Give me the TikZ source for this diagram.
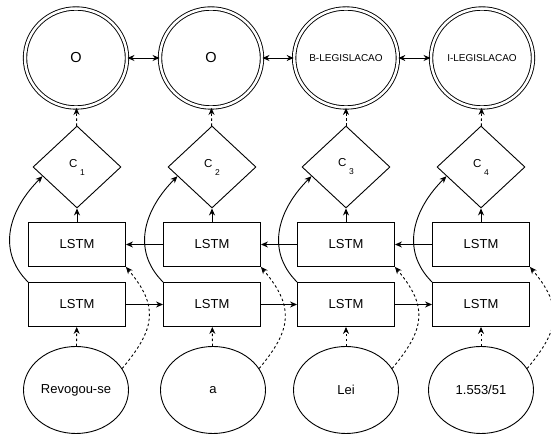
\documentclass[tikz,border=0pt]{standalone}
\usepackage{fontspec}
\setmainfont{Liberation Sans}
\usetikzlibrary{shapes.geometric,arrows.meta}
\begin{document}
\begin{tikzpicture}[x=1pt,y=1pt,line width=0.9pt,
 outnode/.style={draw,ellipse,double,double distance=2.5pt,minimum width=102pt,minimum height=99pt,inner sep=0pt},
 crfnode/.style={draw,diamond,minimum width=88pt,minimum height=82pt,inner sep=0pt},
 lstmnode/.style={draw,rectangle,minimum width=97pt,minimum height=44pt,inner sep=0pt,font=\fontsize{13}{15}\selectfont},
 wordnode/.style={draw,ellipse,minimum width=105pt,minimum height=87pt,inner sep=0pt,font=\fontsize{13}{15}\selectfont},
 arr/.style={-{Stealth[length=7pt,width=6pt]}},
 biarr/.style={{Stealth[length=7pt,width=6pt]}-{Stealth[length=7pt,width=6pt]}},
 dasharr/.style={-{Stealth[length=7pt,width=6pt]},dash pattern=on 2.5pt off 2.5pt}]
 \useasboundingbox (0,0) rectangle (551,435);
 \node[outnode,font=\fontsize{14.5}{16}\selectfont] (o1) at (76,377) {O};
 \node[outnode,font=\fontsize{14.5}{16}\selectfont] (o2) at (211,377) {O};
 \node[outnode,font=\fontsize{10}{12}\selectfont] (o3) at (346,377) {B-LEGISLACAO};
 \node[outnode,font=\fontsize{10}{12}\selectfont] (o4) at (482,377) {I-LEGISLACAO};
 \node[crfnode] (c1) at (77,268) {\fontsize{11.5}{13}\selectfont C\hspace{2.5pt}\raisebox{-8pt}{\fontsize{8.5}{10}\selectfont 1}};
 \node[crfnode] (c2) at (212,268) {\fontsize{11.5}{13}\selectfont C\hspace{2.5pt}\raisebox{-8pt}{\fontsize{8.5}{10}\selectfont 2}};
 \node[crfnode] (c3) at (346,268) {\fontsize{11.5}{13}\selectfont C\hspace{2.5pt}\raisebox{-8pt}{\fontsize{8.5}{10}\selectfont 3}};
 \node[crfnode] (c4) at (481,268) {\fontsize{11.5}{13}\selectfont C\hspace{2.5pt}\raisebox{-8pt}{\fontsize{8.5}{10}\selectfont 4}};
 \node[lstmnode] (b1) at (77,190.5) {LSTM};
 \node[lstmnode] (b2) at (212,190.5) {LSTM};
 \node[lstmnode] (b3) at (346,190.5) {LSTM};
 \node[lstmnode] (b4) at (481,190.5) {LSTM};
 \node[lstmnode] (f1) at (77,130.5) {LSTM};
 \node[lstmnode] (f2) at (212,130.5) {LSTM};
 \node[lstmnode] (f3) at (346,130.5) {LSTM};
 \node[lstmnode] (f4) at (481,130.5) {LSTM};
 \node[wordnode] (w1) at (76,45) {Revogou-se};
 \node[wordnode] (w2) at (213,45) {a};
 \node[wordnode] (w3) at (346,45) {Lei};
 \node[wordnode] (w4) at (481,45) {1.553/51};
 \draw[biarr] (o1) -- (o2);
 \draw[biarr] (o2) -- (o3);
 \draw[biarr] (o3) -- (o4);
 \draw[dasharr] (c1) -- (o1);
 \draw[dasharr] (c2) -- (o2);
 \draw[dasharr] (c3) -- (o3);
 \draw[dasharr] (c4) -- (o4);
 \draw[arr] (b1) -- (c1);
 \draw[arr] (b2) -- (c2);
 \draw[arr] (b3) -- (c3);
 \draw[arr] (b4) -- (c4);
 \draw[arr] (b4) -- (b3);
 \draw[arr] (b3) -- (b2);
 \draw[arr] (b2) -- (b1);
 \draw[arr] (f1) -- (f2);
 \draw[arr] (f2) -- (f3);
 \draw[arr] (f3) -- (f4);
 \draw[dasharr] (w1) -- (f1);
 \draw[dasharr] (w2) -- (f2);
 \draw[dasharr] (w3) -- (f3);
 \draw[dasharr] (w4) -- (f4);
 \draw[arr] (f1.north west) to[out=135,in=225,looseness=1.1] (c1.195);
 \draw[arr] (f2.north west) to[out=135,in=225,looseness=1.1] (c2.195);
 \draw[arr] (f3.north west) to[out=135,in=225,looseness=1.1] (c3.195);
 \draw[arr] (f4.north west) to[out=135,in=225,looseness=1.1] (c4.195);
 \draw[dasharr] (w1.25) to[out=50,in=-50,looseness=1.3] (b1.south east);
 \draw[dasharr] (w2.25) to[out=50,in=-50,looseness=1.3] (b2.south east);
 \draw[dasharr] (w3.25) to[out=50,in=-50,looseness=1.3] (b3.south east);
 \draw[dasharr] (w4.25) to[out=50,in=-50,looseness=1.3] (b4.south east);
\end{tikzpicture}
\end{document}
